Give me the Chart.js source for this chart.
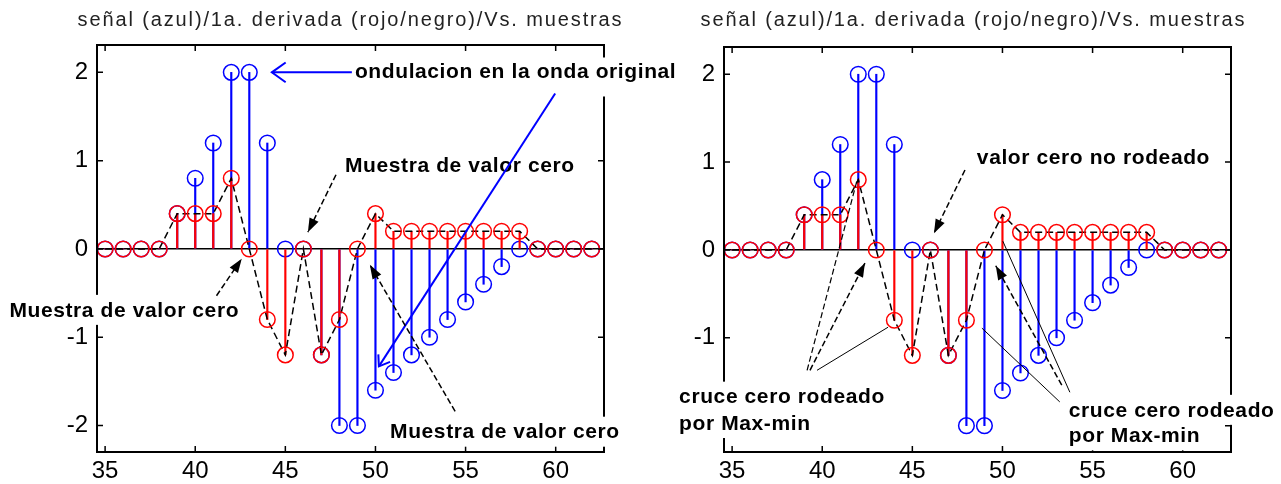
<!DOCTYPE html>
<html>
<head>
<meta charset="utf-8">
<script src="https://cdn.jsdelivr.net/npm/chart.js@4"></script>
<style>
  html, body { margin: 0; padding: 0; background: #fff; }
  #wrap { position: relative; width: 1281px; height: 484px; overflow: hidden; }
  #izq { position: absolute; left: 0; top: 0; }
  #der { position: absolute; left: 640px; top: 0; }
</style>
</head>
<body>
<div id="wrap">
  <canvas id="izq" width="700" height="484"></canvas>
  <canvas id="der" width="641" height="484"></canvas>
</div>
<script>
// muestras y valores de la señal y de su primera derivada
const muestras = [35, 36, 37, 38, 39, 40, 41, 42, 43, 44, 45, 46, 47, 48,
                  49, 50, 51, 52, 53, 54, 55, 56, 57, 58, 59, 60, 61, 62];
const senal = [0, 0, 0, 0, 0.4, 0.8, 1.2, 2, 2, 1.2, 0, 0, -1.2, -2,
               -2, -1.6, -1.4, -1.2, -1.0, -0.8, -0.6, -0.4, -0.2, 0, 0, 0, 0, 0];
const derivada = [0, 0, 0, 0, 0.4, 0.4, 0.4, 0.8, 0, -0.8, -1.2, 0, -1.2, -0.8,
                  0, 0.4, 0.2, 0.2, 0.2, 0.2, 0.2, 0.2, 0.2, 0.2, 0, 0, 0, 0];
const ticksX = [35, 40, 45, 50, 55, 60];
const ticksY = [-2, -1, 0, 1, 2];
const titulo = 'señal (azul)/1a. derivada (rojo/negro)/Vs. muestras';

const AZUL = '#0000ff';
const ROJO = '#ff0000';
const FUENTE = '"Liberation Sans", Arial, sans-serif';

const puntos = ys => muestras.map((x, i) => ({ x: x, y: ys[i] }));

function flecha(ctx, x1, y1, x2, y2, f) {
  ctx.save();
  ctx.strokeStyle = f.color || '#000';
  ctx.fillStyle = f.color || '#000';
  ctx.lineWidth = f.ancho || 1.5;
  ctx.setLineDash(f.guiones || []);
  ctx.beginPath();
  ctx.moveTo(x1, y1);
  ctx.lineTo(x2, y2);
  ctx.stroke();
  ctx.setLineDash([]);
  const ang = Math.atan2(y2 - y1, x2 - x1);
  if (f.punta === 'llena') {
    const L = 14, W = 5;
    ctx.beginPath();
    ctx.moveTo(x2, y2);
    ctx.lineTo(x2 - L * Math.cos(ang) + W * Math.sin(ang), y2 - L * Math.sin(ang) - W * Math.cos(ang));
    ctx.lineTo(x2 - L * Math.cos(ang) - W * Math.sin(ang), y2 - L * Math.sin(ang) + W * Math.cos(ang));
    ctx.closePath();
    ctx.fill();
  } else if (f.punta === 'abierta') {
    const L = f.largo || 13, d = 0.62;
    ctx.beginPath();
    ctx.moveTo(x2 - L * Math.cos(ang - d), y2 - L * Math.sin(ang - d));
    ctx.lineTo(x2, y2);
    ctx.lineTo(x2 - L * Math.cos(ang + d), y2 - L * Math.sin(ang + d));
    ctx.stroke();
  }
  ctx.restore();
}

// caja de ejes estilo matlab, titulo y anotaciones
function marco(notas) {
  return {
    id: 'marco',
    afterDraw(chart) {
      const ctx = chart.ctx, a = chart.chartArea;
      const sx = chart.scales.x, sy = chart.scales.y;
      const px = v => sx.getPixelForValue(v);
      const py = v => sy.getPixelForValue(v);
      ctx.save();
      ctx.strokeStyle = '#000';
      ctx.lineWidth = 2;
      ctx.strokeRect(a.left, a.top, a.right - a.left, a.bottom - a.top);
      ctx.lineWidth = 1.5;
      ctx.beginPath();
      ticksX.forEach(v => {
        const x = px(v);
        ctx.moveTo(x, a.top); ctx.lineTo(x, a.top + 6);
        ctx.moveTo(x, a.bottom); ctx.lineTo(x, a.bottom - 6);
      });
      ticksY.forEach(v => {
        const y = py(v);
        ctx.moveTo(a.left, y); ctx.lineTo(a.left + 6, y);
        ctx.moveTo(a.right, y); ctx.lineTo(a.right - 6, y);
      });
      ctx.stroke();

      // titulo
      ctx.font = '20px ' + FUENTE;
      ctx.fillStyle = '#222';
      ctx.textAlign = 'center';
      ctx.textBaseline = 'middle';
      if ('letterSpacing' in ctx) {
        ctx.letterSpacing = '0px';
        const w = ctx.measureText(titulo).width;
        ctx.letterSpacing = Math.max(0, (546 - w) / titulo.length) + 'px';
      }
      ctx.fillText(titulo, (a.left + a.right) / 2 + notas.dxTitulo, 20);

      // textos con fondo blanco
      ctx.font = 'bold 21px ' + FUENTE;
      ctx.textAlign = 'left';
      if ('letterSpacing' in ctx) ctx.letterSpacing = '0.6px';
      notas.textos.forEach(n => {
        const x = px(n.x), y = py(n.y);
        const w = ctx.measureText(n.t).width;
        const c = n.caja || [15, 15];
        ctx.fillStyle = '#fff';
        ctx.fillRect(x - 3, y - c[0], w + 6, c[0] + c[1]);
        ctx.fillStyle = '#000';
        ctx.fillText(n.t, x, y + 1);
      });

      notas.flechas.forEach(f => flecha(ctx, px(f.de[0]), py(f.de[1]), px(f.a[0]), py(f.a[1]), f));
      ctx.restore();
    }
  };
}

function panel(id, lay, notas) {
  return new Chart(document.getElementById(id), {
    type: 'scatter',
    data: {
      datasets: [
        { type: 'scatter', data: puntos(derivada), pointStyle: 'circle', pointRadius: 7.8,
          borderColor: ROJO, backgroundColor: 'rgba(0,0,0,0)', pointBorderWidth: 1.5, order: 0 },
        { type: 'line', data: puntos(derivada), borderColor: '#000', borderWidth: 1.5,
          borderDash: [7, 4], pointRadius: 0, tension: 0, order: 1 },
        { type: 'bar', data: puntos(derivada), backgroundColor: ROJO, barThickness: 1.5,
          grouped: false, order: 2 },
        { type: 'scatter', data: puntos(senal), pointStyle: 'circle', pointRadius: 7.8,
          borderColor: AZUL, backgroundColor: 'rgba(0,0,0,0)', pointBorderWidth: 1.5, order: 3 },
        { type: 'bar', data: puntos(senal), backgroundColor: AZUL, barThickness: 1.5,
          grouped: false, order: 4 }
      ]
    },
    options: {
      responsive: false,
      animation: false,
      devicePixelRatio: 1,
      layout: { padding: { top: lay.arriba, right: lay.derecha, left: 0, bottom: 0 } },
      plugins: { legend: { display: false }, tooltip: { enabled: false }, title: { display: false } },
      scales: {
        x: {
          type: 'linear', min: 34.55, max: 62.68, offset: false,
          afterBuildTicks: s => { s.ticks = ticksX.map(v => ({ value: v })); },
          afterFit: s => { s.height = lay.abajo; },
          grid: { display: false, drawTicks: false },
          border: { display: false },
          ticks: { font: { family: FUENTE, size: 24 }, color: '#000', padding: 5,
                   maxRotation: 0, autoSkip: false }
        },
        y: {
          type: 'linear', min: -2.30, max: 2.31,
          afterBuildTicks: s => { s.ticks = ticksY.map(v => ({ value: v })); },
          afterFit: s => { s.width = lay.izquierda; },
          grid: { drawTicks: false, lineWidth: 1.5,
                  color: c => (c.tick && c.tick.value === 0) ? '#000' : 'rgba(0,0,0,0)' },
          border: { display: false },
          ticks: { font: { family: FUENTE, size: 24 }, color: '#000', padding: 9 }
        }
      }
    },
    plugins: [marco(notas)]
  });
}

panel('izq', { arriba: 45, derecha: 96, izquierda: 97, abajo: 32 }, {
  dxTitulo: 0,
  textos: [
    { t: 'ondulacion en la onda original', x: 48.86, y: 2.01, caja: [14, 25] },
    { t: 'Muestra de valor cero', x: 48.31, y: 0.95 },
    { t: 'Muestra de valor cero', x: 29.69, y: -0.69 },
    { t: 'Muestra de valor cero', x: 50.81, y: -2.07 }
  ],
  flechas: [
    { de: [48.69, 2.0], a: [44.25, 2.0], color: AZUL, ancho: 2, punta: 'abierta', largo: 17 },
    { de: [59.97, 1.76], a: [50.19, -1.33], color: AZUL, ancho: 2, punta: 'abierta', largo: 12 },
    { de: [47.81, 0.84], a: [46.25, 0.19], guiones: [6, 3], punta: 'llena' },
    { de: [41.18, -0.53], a: [42.58, -0.11], guiones: [6, 3], punta: 'llena' },
    { de: [54.42, -1.84], a: [49.69, -0.18], guiones: [6, 3], punta: 'llena' }
  ]
});

panel('der', { arriba: 47, derecha: 50, izquierda: 84, abajo: 32 }, {
  dxTitulo: -4,
  textos: [
    { t: 'valor cero no rodeado', x: 48.58, y: 1.06 },
    { t: 'cruce cero rodeado', x: 32.06, y: -1.67 },
    { t: 'por Max-min', x: 32.06, y: -1.97 },
    { t: 'cruce cero rodeado', x: 53.68, y: -1.82 },
    { t: 'por Max-min', x: 53.68, y: -2.11 }
  ],
  flechas: [
    { de: [47.92, 0.91], a: [46.2, 0.19], guiones: [6, 3], punta: 'llena' },
    { de: [39.16, -1.37], a: [41.93, 0.79], guiones: [6, 3], ancho: 1.2 },
    { de: [39.32, -1.37], a: [42.37, -0.15], guiones: [6, 3], punta: 'llena' },
    { de: [39.71, -1.37], a: [43.65, -0.88], ancho: 1 },
    { de: [53.74, -1.62], a: [50.02, 0.10], ancho: 1 },
    { de: [53.29, -1.54], a: [49.63, -0.18], guiones: [6, 3], punta: 'llena' },
    { de: [53.18, -1.73], a: [48.86, -0.89], ancho: 1 }
  ]
});
</script>
</body>
</html>
